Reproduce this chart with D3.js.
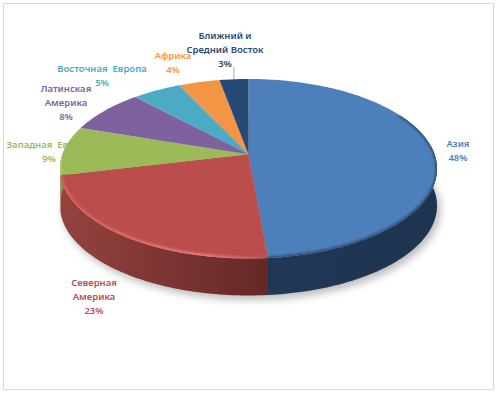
<!DOCTYPE html>
<html>
<head>
<meta charset="utf-8">
<script src="https://cdn.jsdelivr.net/npm/d3@7"></script>
<style>
  html, body { margin: 0; padding: 0; background: #fff; }
  text { font-family: "Noto Sans", sans-serif; font-size: 9.5px; font-weight: 600; }
</style>
</head>
<body>
<script>
// Data, clockwise from 12 o'clock
const regions = ["Азия", "Северная Америка", "Западная Европа", "Латинская Америка", "Восточная Европа", "Африка", "Ближний и Средний Восток"];
const percentLabels = [48, 23, 9, 8, 5, 4, 3];          // as printed
const shares = [48.6, 22.7, 8.8, 8.0, 4.9, 4.1, 2.9];   // as measured from the slice edges
const colors = ["#4d7fba", "#bb4e4c", "#9bbb59", "#7f61a0", "#4babc5", "#f49546", "#274a74"];
const sideDark = ["#1e3450", "#642826", "#6f8a3c", "#5a4376", "#33808f", "#b56a2c", "#1a3350"];
const sideLight = ["#203856", "#95423f", "#7f9c46", "#66507f", "#3a8da3", "#c47631", "#1f3a5c"];

// Label layout: [centre x, first baseline, line texts]
const labelLayout = [
  [458, 147, ["Азия"]],
  [94, 286, ["Северная", "Америка"]],
  [49, 148, ["Западная  Европа"]],
  [66, 92, ["Латинская", "Америка"]],
  [102, 72, ["Восточная  Европа"]],
  [173, 59, ["Африка"]],
  [225, 39, ["Ближний и", "Средний Восток"]]
];

const width = 500, height = 394;
const tilt = -0.162;   // perspective: the centre of the pie sits above the middle of the ellipse
const depth = 37;

const x = d3.scaleLinear().domain([-1, 1]).range([60, 437]);
const y = d3.scaleLinear().domain([-1, 1]).range([79, 258.5]);

// angle clockwise from the top -> point on the rim
function project(a, r = 1) {
  const u = r * Math.sin(a), v = -r * Math.cos(a);
  const w = 1 + tilt * v;
  return [x(u * Math.sqrt(1 - tilt * tilt) / w), y((v + tilt) / w)];
}

function rimPoints(a0, a1) {
  const n = Math.max(2, Math.ceil((a1 - a0) / 0.02));
  return d3.range(n + 1).map(i => project(a0 + (a1 - a0) * i / n));
}

const line = d3.line();
const slices = d3.pie().sort(null).value(d => d)(shares);
const full = rimPoints(0, 2 * Math.PI);

const svg = d3.select("body").append("svg")
  .attr("width", width)
  .attr("height", height)
  .style("display", "block");

const defs = svg.append("defs");
[["blur4", 4], ["blur1", 1.2]].forEach(([id, s]) => {
  defs.append("filter").attr("id", id)
    .attr("x", "-20%").attr("y", "-20%").attr("width", "140%").attr("height", "140%")
    .append("feGaussianBlur").attr("stdDeviation", s);
});
defs.append("clipPath").attr("id", "topClip").append("path").attr("d", line(full) + "Z");

// frame
svg.append("rect")
  .attr("x", 3.5).attr("y", 3.5)
  .attr("width", 490).attr("height", 386)
  .attr("fill", "#fff")
  .attr("stroke", "#d9d9d9");

// labels go under the pie, the pie hides part of "Западная Европа"
const labels = svg.append("g").attr("text-anchor", "middle");
labelLayout.forEach(([cx, top, lines], i) => {
  const t = labels.append("text").attr("fill", colors[i]);
  lines.concat(percentLabels[i] + "%").forEach((s, k) => {
    t.append("tspan").attr("x", cx).attr("y", top + k * 14)
      .style("white-space", "pre").text(s);
  });
});

// leader line of the last label
const leaderA = (slices[6].startAngle + slices[6].endAngle) / 2;
svg.append("line")
  .attr("x1", project(leaderA)[0]).attr("x2", project(leaderA)[0])
  .attr("y1", 67).attr("y2", project(leaderA)[1])
  .attr("stroke", "#a6a6a6");

// soft shadow under the whole thing
svg.append("path")
  .attr("d", line(full.map(p => [p[0] + 3, p[1] + depth + 4])) + "Z")
  .attr("fill", "#000").attr("opacity", 0.28)
  .attr("filter", "url(#blur4)");

// side walls, only the part of the rim that faces us
slices.forEach((s, i) => {
  const limitA = 3 * Math.PI / 2 + 0.16;
  if (s.startAngle >= limitA) return;
  const a0 = Math.max(s.startAngle, Math.PI / 2 - 0.1), a1 = Math.min(s.endAngle, limitA);
  if (a1 <= a0) return;
  const pts = rimPoints(a0, a1);
  const gradId = "side" + i;
  const xs = pts.map(p => p[0]);
  const g = defs.append("linearGradient").attr("id", gradId)
    .attr("gradientUnits", "userSpaceOnUse")
    .attr("x1", d3.min(xs)).attr("x2", d3.max(xs)).attr("y1", 0).attr("y2", 0);
  // left end of each wall is the lighter one
  g.append("stop").attr("offset", 0).attr("stop-color", sideLight[i]);
  g.append("stop").attr("offset", 1).attr("stop-color", sideDark[i]);
  const lower = pts.slice().reverse().map(p => [p[0], p[1] + depth]);
  svg.append("path")
    .attr("d", line(pts.concat(lower)) + "Z")
    .attr("fill", `url(#${gradId})`);
});

// top face
slices.forEach((s, i) => {
  svg.append("path")
    .attr("d", line([project(0, 0)].concat(rimPoints(s.startAngle, s.endAngle))) + "Z")
    .attr("fill", colors[i]);
});

// bevel along the rim of the top face
const bevel = svg.append("g").attr("clip-path", "url(#topClip)");
const redFade = defs.append("linearGradient").attr("id", "redFade")
  .attr("gradientUnits", "userSpaceOnUse")
  .attr("x1", 60).attr("x2", 270).attr("y1", 0).attr("y2", 0);
redFade.append("stop").attr("offset", 0).attr("stop-color", "#d9625f");
redFade.append("stop").attr("offset", 0.7).attr("stop-color", "#ee7f7b");
redFade.append("stop").attr("offset", 1).attr("stop-color", "#bb4e4c");
bevel.append("path")
  .attr("d", line(rimPoints(slices[1].startAngle, slices[1].endAngle)))
  .attr("fill", "none").attr("stroke", "url(#redFade)").attr("stroke-width", 4)
  .attr("filter", "url(#blur1)");
bevel.append("path")
  .attr("d", line(rimPoints(Math.PI / 2 - 0.5, slices[0].endAngle)))
  .attr("fill", "none").attr("stroke", "#2a4a73").attr("stroke-width", 3)
  .attr("filter", "url(#blur1)");
bevel.append("path")
  .attr("d", line(rimPoints(slices[2].startAngle, slices[2].startAngle + 0.2)))
  .attr("fill", "none").attr("stroke", "#b9d27c").attr("stroke-width", 3)
  .attr("filter", "url(#blur1)");
</script>
</body>
</html>
